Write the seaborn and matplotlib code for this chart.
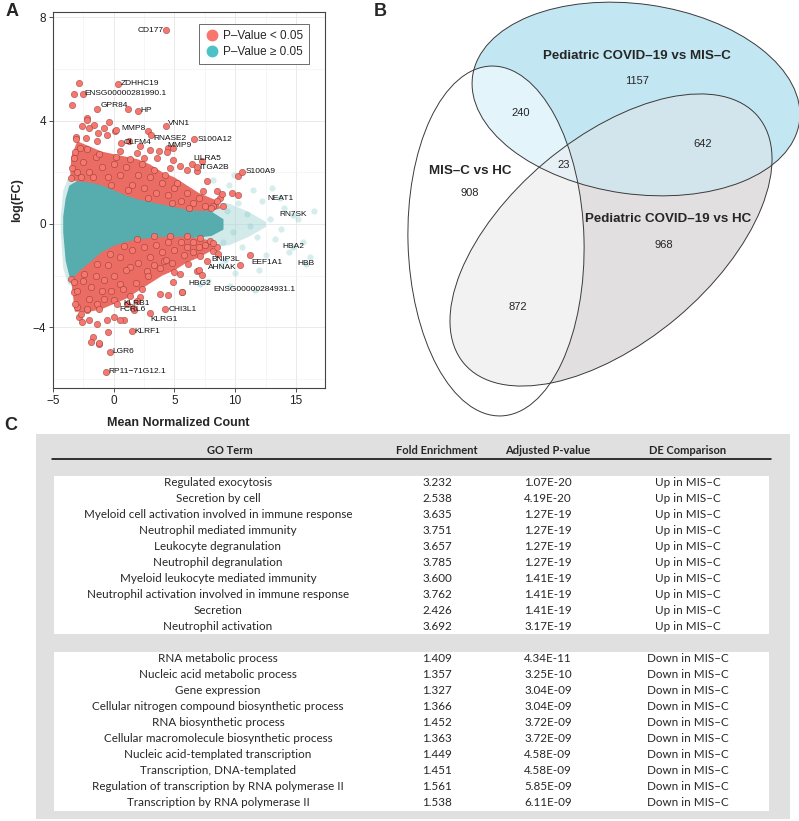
import numpy as np
import pandas as pd
import matplotlib
matplotlib.use("Agg")
import matplotlib.pyplot as plt
from matplotlib.patches import Ellipse, Rectangle, Polygon
from matplotlib.lines import Line2D
from matplotlib.path import Path
import seaborn as sns

sns.set_theme(style="white")
plt.rcParams["font.family"] = ["Liberation Sans", "DejaVu Sans"]

# ---------------- Panel A : MA plot data ----------------
# significant genes (P < 0.05)
red_x = [-2.19, -1.64, -2.6, -0.82, 0.14, -3.14, -0.55, -2.32, 1.23, 2.19, 1.91, 3.0, 3.69, 4.5,
         2.46, 3.55, 4.92, 5.46, 6.0, 6.83, 7.65, 8.47, 9.0, 8.2, 8.74, 7.38, 4.64, -3.28, -3.55,
         -3.41, -2.74, -1.37, 0.55, -2.2, -2.05, -1.3, -0.4, 0.16, -3.1, 4.9, 7.3, 8.9, 9.7, 10.2,
         -3.0, -2.5, -2.0, -1.5, -1.0, -0.5, 0.0, 0.5, 1.0, 1.5, 2.0, 2.5, 3.0, 3.5, 4.0, 4.5, 5.0,
         5.5, 6.0, 6.5, 7.0, 7.5, -3.2, -2.2, -1.2, 0.2, 1.3, 2.3, 3.3, 4.2, 5.2, -2.7, -1.7, -0.2,
         1.2, 2.8, 4.8, 6.2, 8.0, 8.5, 1.15, -2.85, -3.3, -3.4,
         -3.55, -3.28, -3.0, -2.87, -2.6, -2.05, -1.37, -0.55, 0.0, 0.82, 1.64, 3.82, 4.5, 4.92,
         5.6, 5.46, 6.15, 6.83, 7.1, 7.65, 8.2, 8.47, 7.9, 7.1, 6.0, 4.64, 3.28, 1.91, 0.82, -0.27,
         -1.37, -2.46, -3.28, -1.91, -0.82, 0.55, 1.37, 2.73, 4.1, 2.19, 1.09, 0.0, -1.37, 0.55,
         -2.19, -1.23, 8.2, 8.6, 7.05, 7.3, 5.65, 5.0,
         -3.0, -2.5, -2.0, -1.5, -1.0, -0.5, 0.0, 0.5, 1.0, 1.5, 2.0, 2.5, 3.0, 3.5, 4.0, 4.5, 5.0,
         5.5, 6.0, 6.5, 7.0, 7.5, -3.2, -2.2, -1.2, -0.2, 0.8, 1.8, 2.8, 3.8, 4.8, 5.8, -2.7, -0.8,
         0.3, 1.3, 2.3, 3.3, 4.3, 6.5, -0.5, -1.7, -1.9, -1.25, 10.2]
red_y = [4.09, 3.83, 3.77, 3.7, 3.6, 3.38, 3.45, 3.32, 3.19, 3.0, 2.74, 2.87, 2.81, 2.93,
         2.55, 2.55, 2.49, 2.23, 2.1, 2.04, 1.65, 1.27, 0.69, 0.69, 1.01, 1.27, 2.17, 2.55, 1.78,
         2.17, 2.93, 3.19, 2.81, 4.04, 3.7, 3.5, 3.96, 3.65, 3.27, 2.92, 2.42, 1.15, 1.2, 1.1,
         2.0, 2.4, 2.0, 2.6, 2.2, 1.8, 2.3, 1.9, 2.2, 1.5, 1.9, 1.4, 1.8, 1.2, 1.6, 1.1, 1.4,
         0.9, 1.2, 0.8, 1.0, 0.7, 2.8, 2.9, 2.7, 2.6, 2.5, 2.3, 2.1, 1.9, 1.6, 1.8, 1.8, 1.5,
         1.3, 1.0, 0.8, 0.6, 0.6, 0.9, 4.46, 5.46, 5.04, 4.6,
         -2.13, -2.64, -3.22, -3.6, -3.8, -3.73, -3.86, -3.73, -3.6, -3.73, -3.35, -2.7, -2.77, -2.26,
         -2.64, -1.94, -1.55, -1.81, -1.23, -1.42, -1.04, -0.91, -0.65, -0.53, -0.46, -0.46, -0.46,
         -0.59, -0.85, -1.17, -1.55, -1.94, -2.26, -2.45, -2.19, -2.32, -1.68, -1.81, -1.42, -2.83,
         -3.09, -2.96, -3.09, -3.73, -3.35, -4.63, -0.72, -1.17, -1.8, -1.97, -2.64, -1.88,
         -2.6, -2.2, -2.9, -2.0, -2.6, -1.6, -2.0, -1.3, -1.8, -1.0, -1.5, -0.9, -1.3, -0.8, -1.1,
         -0.7, -1.0, -0.7, -0.9, -0.7, -0.9, -0.8, -3.1, -3.3, -3.3, -2.6, -2.5, -2.3, -2.0, -1.7,
         -1.5, -1.2, -3.5, -2.9, -3.1, -2.8, -2.5, -1.6, -1.4, -1.1, -4.2, -4.38, -4.57, -4.6, 1.85]

# non-significant genes scattered away from the dense cloud
ns_x = [8.5, 9.0, 9.3, 9.8, 10.2, 10.6, 11.0, 11.5, 11.8, 12.2, 12.5, 12.9, 13.3, 13.0, 14.0,
        14.4, 15.2, 16.2, 9.5, 8.8, 10.0, 7.8, 9.6, 12.0, 8.2, 9.9, 11.2, 13.8, 15.6, 16.5]
ns_y = [0.9, -0.7, 0.5, -0.3, 0.8, -0.9, 0.4, 1.3, -0.5, 0.9, -1.2, 0.2, -0.6, 1.4, 0.6,
        -1.1, 0.2, -1.3, 1.5, -1.6, -1.9, -2.2, -2.4, -1.8, 1.7, 1.9, -0.1, -0.2, -0.7, 0.5]

# outline of the dense non-significant cloud
ns_env_x = [-4.2, -4.0, -3.7, -3.0, -2.0, -1.0, 0.0, 1.0, 2.0, 3.0, 4.0, 5.0, 6.0, 7.0, 8.0, 9.0]
ns_env_hi = [0.3, 1.0, 1.5, 1.7, 1.7, 1.6, 1.4, 1.2, 1.05, 0.95, 0.85, 0.75, 0.65, 0.6, 0.5, 0.2]
ns_env_lo = [-0.3, -1.4, -2.0, -2.2, -1.8, -1.4, -1.1, -0.9, -0.8, -0.7, -0.65, -0.6, -0.55, -0.5, -0.45, -0.2]
ns_halo_x = [-4.4, -4.2, -3.8, -3.0, -2.0, 0.0, 2.0, 4.0, 6.0, 8.0, 9.5, 11.0, 12.5]
ns_halo_hi = [0.3, 1.3, 1.8, 2.0, 2.0, 1.7, 1.4, 1.2, 1.0, 0.9, 0.8, 0.5, 0.1]
ns_halo_lo = [-0.3, -1.7, -2.3, -2.5, -2.1, -1.4, -1.1, -1.0, -0.9, -0.9, -0.8, -0.5, -0.1]

# outlines of the dense significant masses
up_core_x = [-3.6, -3.0, -2.0, -1.0, 0.0, 1.0, 2.0, 3.0, 4.0, 5.0, 6.0, 7.0, 8.0, 8.8,
             8.5, 7.0, 6.0, 5.0, 4.0, 3.0, 2.0, 1.0, 0.0, -1.0, -2.0, -3.0, -3.5]
up_core_y = [1.7, 1.65, 1.6, 1.5, 1.3, 1.1, 0.95, 0.85, 0.75, 0.65, 0.55, 0.5, 0.5, 0.6,
             0.9, 1.2, 1.5, 1.8, 2.0, 2.3, 2.5, 2.6, 2.7, 2.8, 3.0, 3.2, 2.6]
dn_core_x = [-3.5, -3.0, -2.0, -1.0, 0.0, 1.0, 2.0, 3.0, 4.0, 5.0, 6.0, 7.0, 8.0, 8.5,
             8.0, 7.0, 6.0, 5.0, 4.0, 3.0, 2.0, 1.0, 0.0, -1.0, -2.0, -3.2]
dn_core_y = [-2.2, -1.9, -1.5, -1.1, -0.85, -0.7, -0.6, -0.55, -0.5, -0.5, -0.5, -0.55, -0.65, -0.8,
             -1.05, -1.3, -1.5, -1.8, -2.0, -2.3, -2.6, -2.9, -3.1, -3.3, -3.4, -3.4]

# labelled genes
gene_names = ["CD177", "ZDHHC19", "ENSG00000281990.1", "GPR84", "HP", "VNN1", "MMP8", "RNASE2",
              "S100A12", "MMP9", "OLFM4", "LILRA5", "ITGA2B", "S100A9", "NEAT1", "RN7SK", "HBA2",
              "HBB", "EEF1A1", "BNIP3L", "AHNAK", "HBG2", "ENSG00000284931.1", "KLRB1", "FCRL6",
              "CHI3L1", "KLRG1", "KLRF1", "LGR6", "RP11\u221271G12.1"]
gene_x = [4.3, 0.35, -2.55, -1.4, 1.97, 4.3, 2.85, 3.1, 6.6, 4.4, 0.64, 6.45, 6.85, 10.6, 13.7,
          14.75, 14.75, 15.8, 11.2, 9.2, 10.4, 7.1, 11.6, 1.9, 1.55, 4.26, 2.95, 1.48, -0.3, -0.65]
gene_y = [7.5, 5.42, 5.04, 4.46, 4.38, 3.8, 3.58, 3.45, 3.27, 2.8, 3.15, 2.3, 2.2, 2.0, 1.0,
          0.35, -0.88, -1.54, -1.2, -1.38, -1.58, -2.31, -2.54, -3.0, -3.25, -3.3, -3.45, -4.15,
          -4.95, -5.73]
gene_sig = [True, True, True, True, True, True, True, True, True, True, True, True, True, True,
            False, False, False, False, True, False, True, False, False, True, True, True, True,
            True, True, True]

# label placement (layout only): (dx, dy, ha)
label_place = {
    "CD177": (-0.15, 0.0, "right"), "ZDHHC19": (0.22, 0.0, "left"),
    "ENSG00000281990.1": (0.17, 0.0, "left"), "GPR84": (0.33, 0.12, "left"),
    "HP": (0.23, 0.0, "left"), "VNN1": (0.2, 0.08, "left"), "MMP8": (-0.25, 0.1, "right"),
    "RNASE2": (0.17, -0.15, "left"), "S100A12": (0.3, 0.0, "left"), "MMP9": (0.05, 0.22, "left"),
    "OLFM4": (0.21, 0.0, "left"), "LILRA5": (0.1, 0.25, "left"), "ITGA2B": (0.2, 0.0, "left"),
    "S100A9": (0.3, 0.04, "left"), "NEAT1": (0.0, 0.0, "center"), "RN7SK": (0.0, 0.0, "center"),
    "HBA2": (0.0, 0.0, "center"), "HBB": (0.0, 0.0, "center"), "EEF1A1": (0.1, -0.3, "left"),
    "BNIP3L": (0.0, 0.0, "center"), "AHNAK": (-0.25, -0.11, "right"), "HBG2": (0.0, 0.0, "center"),
    "ENSG00000284931.1": (0.0, 0.0, "center"), "KLRB1": (0.0, -0.08, "center"),
    "FCRL6": (0.0, -0.06, "center"), "CHI3L1": (0.24, 0.0, "left"), "KLRG1": (0.05, -0.24, "left"),
    "KLRF1": (0.24, 0.0, "left"), "LGR6": (0.22, 0.0, "left"), "RP11\u221271G12.1": (0.25, 0.0, "left"),
}

legend_labels = ["P\u2013Value < 0.05", "P\u2013Value \u2265 0.05"]
x_ticks = [-5, 0, 5, 10, 15]
y_ticks = [-4, 0, 4, 8]

# ---------------- Panel B : Venn data ----------------
set_names = ["Pediatric COVID\u201319 vs MIS\u2013C", "MIS\u2013C vs HC", "Pediatric COVID\u201319 vs HC"]
venn_counts = {"P_only": 1157, "M_only": 908, "H_only": 968, "PM": 240, "PH": 642, "MH": 872, "PMH": 23}

# ---------------- Panel C : GO table data ----------------
table_header = ["GO Term", "Fold Enrichment", "Adjusted P-value", "DE Comparison"]
up_terms = ["Regulated exocytosis", "Secretion by cell",
            "Myeloid cell activation involved in immune response", "Neutrophil mediated immunity",
            "Leukocyte degranulation", "Neutrophil degranulation", "Myeloid leukocyte mediated immunity",
            "Neutrophil activation involved in immune response", "Secretion", "Neutrophil activation"]
up_fold = [3.232, 2.538, 3.635, 3.751, 3.657, 3.785, 3.600, 3.762, 2.426, 3.692]
up_padj = [1.07e-20, 4.19e-20, 1.27e-19, 1.27e-19, 1.27e-19, 1.27e-19, 1.41e-19, 1.41e-19, 1.41e-19, 3.17e-19]
down_terms = ["RNA metabolic process", "Nucleic acid metabolic process", "Gene expression",
              "Cellular nitrogen compound biosynthetic process", "RNA biosynthetic process",
              "Cellular macromolecule biosynthetic process", "Nucleic acid-templated transcription",
              "Transcription, DNA-templated", "Regulation of transcription by RNA polymerase II",
              "Transcription by RNA polymerase II"]
down_fold = [1.409, 1.357, 1.327, 1.366, 1.452, 1.363, 1.449, 1.451, 1.561, 1.538]
down_padj = [4.34e-11, 3.25e-10, 3.04e-09, 3.04e-09, 3.72e-09, 3.72e-09, 4.58e-09, 4.58e-09, 5.85e-09, 6.11e-09]
up_label = "Up in MIS\u2013C"
down_label = "Down in MIS\u2013C"

# ================= drawing =================
W, H = 799, 821
fig = plt.figure(figsize=(W / 100, H / 100), dpi=100)


def box(x0, y0, x1, y1):
    return [x0 / W, 1 - y1 / H, (x1 - x0) / W, (y1 - y0) / H]


bg = fig.add_axes([0, 0, 1, 1])
bg.set_xlim(0, W)
bg.set_ylim(H, 0)
bg.axis("off")

# ---- Panel A ----
ax = fig.add_axes(box(53, 12, 325, 388))
ax.set_facecolor("white")
RED = "#F8766D"
TEAL = "#00BFC4"
ax.fill_between(ns_halo_x, ns_halo_lo, ns_halo_hi, color="#A7D6D6", alpha=0.5, lw=0, zorder=1)
ax.fill_between(ns_env_x, ns_env_lo, ns_env_hi, color="#4AA6A7", alpha=0.9, lw=0, zorder=1.5)
sns.scatterplot(x=ns_x, y=ns_y, color="#8ACDCD", alpha=0.35, s=20, linewidth=0, ax=ax, zorder=2)
ax.add_patch(Polygon(np.column_stack([up_core_x, up_core_y]), closed=True, fc="#EA6C63", ec="none", zorder=3))
ax.add_patch(Polygon(np.column_stack([dn_core_x, dn_core_y]), closed=True, fc="#EA6C63", ec="none", zorder=3))
sns.scatterplot(x=red_x, y=red_y, color=RED, edgecolor="#7A3530", linewidth=0.3, s=21, ax=ax, zorder=4)

gdf = pd.DataFrame({"x": gene_x, "y": gene_y, "sig": gene_sig, "name": gene_names})
sns.scatterplot(data=gdf[gdf.sig], x="x", y="y", color=RED, edgecolor="#7A3530", linewidth=0.3,
                s=21, ax=ax, zorder=5, legend=False)
sns.scatterplot(data=gdf[~gdf.sig], x="x", y="y", color="#9ED5D5", alpha=0.5, s=20, linewidth=0,
                ax=ax, zorder=2, legend=False)
for n, gx, gy in zip(gene_names, gene_x, gene_y):
    dx, dy, ha = label_place[n]
    ax.text(gx + dx, gy + dy, n, fontsize=6, ha=ha, va="center", color="#111111", zorder=6)

ax.set_xlim(-5.0, 17.4)
ax.set_ylim(-6.35, 8.2)
ax.set_xticks(x_ticks)
ax.set_yticks(y_ticks)
ax.set_xticklabels([str(t) if t >= 0 else "\u2212" + str(-t) for t in x_ticks])
ax.set_yticklabels([str(t) if t >= 0 else "\u2212" + str(-t) for t in y_ticks])
ax.set_xticks([-2.5, 2.5, 7.5, 12.5], minor=True)
ax.set_yticks([-6, -2, 2, 6], minor=True)
ax.grid(True, which="major", color="#E6E6E6", lw=0.6, zorder=0)
ax.grid(True, which="minor", color="#F0F0F0", lw=0.4, zorder=0)
ax.set_axisbelow(True)
ax.tick_params(axis="both", which="major", labelsize=8.5, length=3, width=0.6, colors="#333333",
               labelcolor="#222222", pad=2, bottom=True, left=True)
ax.tick_params(which="minor", length=0)
for s in ax.spines.values():
    s.set_color("#444444")
    s.set_linewidth(0.8)
ax.set_xlabel("Mean Normalized Count", fontsize=9, fontweight="bold")
ax.set_ylabel("log(FC)", fontsize=9, fontweight="bold")
ax.yaxis.set_label_coords((23 - 53) / 272, 0.5)
ax.xaxis.set_label_coords(0.46, (388 - 417) / 376)
handles = [Line2D([0], [0], marker="o", ls="", markerfacecolor=RED, markeredgecolor=RED, markersize=7.5),
           Line2D([0], [0], marker="o", ls="", markerfacecolor="#4DC2C6", markeredgecolor="#4DC2C6", markersize=7.5)]
leg = ax.legend(handles, legend_labels, loc="upper right", bbox_to_anchor=(0.963, 0.984), frameon=True,
                fancybox=False, edgecolor="#555555", fontsize=8.5, handletextpad=0.3, borderpad=0.5,
                labelspacing=0.35, handlelength=1.2, framealpha=1)
leg.get_frame().set_linewidth(0.6)

# ---- Panel B : Venn ----
blue_e = dict(xy=(636, 99), width=330, height=190, angle=8)
white_e = dict(xy=(496, 241), width=176, height=350, angle=-1.6)
gray_e = dict(xy=(611, 240), width=384, height=204, angle=-40)


def ell_pts(e, n=720):
    t = np.linspace(0, 2 * np.pi, n, endpoint=False)
    a, b = e["width"] / 2, e["height"] / 2
    th = np.deg2rad(e["angle"])
    x = a * np.cos(t)
    y = b * np.sin(t)
    return np.column_stack([e["xy"][0] + x * np.cos(th) - y * np.sin(th),
                            e["xy"][1] + x * np.sin(th) + y * np.cos(th)])


C_BLUE, C_GRAY, C_PH = "#C2E7F2", "#E1DFE0", "#D2E5EC"
C_PM, C_MH, C_PMH = "#E3F4FA", "#F2F2F2", "#E7F0F4"

pb = Ellipse(**blue_e, fc=C_BLUE, ec="none", zorder=1)
bg.add_patch(pb)
pg = Ellipse(**gray_e, fc=C_GRAY, ec="none", zorder=1.1)
bg.add_patch(pg)
p = Ellipse(**gray_e, fc=C_PH, ec="none", zorder=1.2)
bg.add_patch(p)
p.set_clip_path(pb)
pw = Ellipse(**white_e, fc="white", ec="none", zorder=1.3)
bg.add_patch(pw)
p = Ellipse(**white_e, fc=C_PM, ec="none", zorder=1.4)
bg.add_patch(p)
p.set_clip_path(pb)
p = Ellipse(**white_e, fc=C_MH, ec="none", zorder=1.4)
bg.add_patch(p)
p.set_clip_path(pg)
wpts, gpts = ell_pts(white_e), ell_pts(gray_e)
inter = np.vstack([wpts[Path(gpts).contains_points(wpts)], gpts[Path(wpts).contains_points(gpts)]])
cen = inter.mean(axis=0)
inter = inter[np.argsort(np.arctan2(inter[:, 1] - cen[1], inter[:, 0] - cen[0]))]
p = Polygon(inter, closed=True, fc=C_PMH, ec="none", zorder=1.5)
bg.add_patch(p)
p.set_clip_path(pb)
for e in (blue_e, white_e, gray_e):
    bg.add_patch(Ellipse(**e, fc="none", ec="#3A3A3A", lw=0.7, zorder=2))

bg.text(637, 56, set_names[0], fontsize=9.6, fontweight="bold", ha="center", va="center", zorder=3)
bg.text(470, 171, set_names[1], fontsize=9.6, fontweight="bold", ha="center", va="center", zorder=3)
bg.text(668, 219, set_names[2], fontsize=9.6, fontweight="bold", ha="center", va="center", zorder=3)
for key, (tx, ty) in {"P_only": (637, 81), "M_only": (470, 193), "H_only": (664, 245), "PM": (521, 113),
                      "PH": (703, 144), "MH": (518, 307), "PMH": (564, 165)}.items():
    bg.text(tx, ty, str(venn_counts[key]), fontsize=8, ha="center", va="center", zorder=3)

# ---- Panel C : table ----
TF = ["Lato", "DejaVu Sans"]
bg.add_patch(Rectangle((36, 434), 754, 385, fc="#E0E0E0", ec="none", zorder=0.5))
bg.add_patch(Rectangle((54, 476), 715, 158, fc="white", ec="none", zorder=0.6))
bg.add_patch(Rectangle((54, 652), 715, 159, fc="white", ec="none", zorder=0.6))
bg.plot([52, 771], [459, 459], color="black", lw=1.1, zorder=1)
col_x = [218, 437, 548, 688]
hdr_x = [230, 437, 548, 688]
for hx, h in zip(hdr_x, table_header):
    bg.text(hx, 451, h, fontsize=8, fontweight="bold", ha="center", va="center", family=TF)
for i in range(len(up_terms)):
    yy = 483 + 16 * i
    row = [up_terms[i], "%.3f" % up_fold[i], "%.2E" % up_padj[i], up_label]
    for cx, v in zip(col_x, row):
        bg.text(cx, yy, v, fontsize=8.4, ha="center", va="center", family=TF)
for i in range(len(down_terms)):
    yy = 659 + 16 * i
    row = [down_terms[i], "%.3f" % down_fold[i], "%.2E" % down_padj[i], down_label]
    for cx, v in zip(col_x, row):
        bg.text(cx, yy, v, fontsize=8.4, ha="center", va="center", family=TF)

# panel letters
for letter, (lx, ly) in {"A": (12, 11), "B": (380, 12), "C": (11, 426)}.items():
    bg.text(lx, ly, letter, fontsize=13, fontweight="bold", ha="center", va="center")

fig.savefig("out.png", dpi=100)
